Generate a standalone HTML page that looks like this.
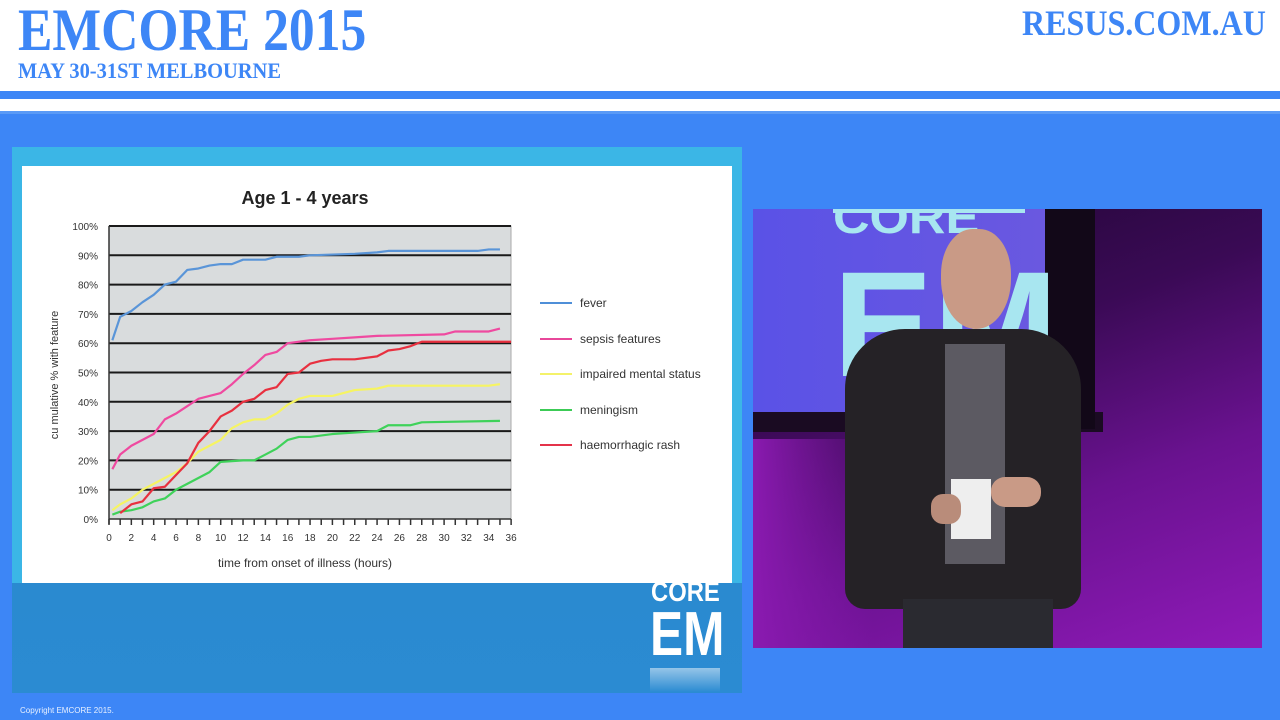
<!DOCTYPE html>
<html><head><meta charset="utf-8"><style>
html,body{margin:0;padding:0;width:1280px;height:720px;overflow:hidden;background:#3d86f6;font-family:"Liberation Sans",sans-serif}
.abs{position:absolute}
</style></head><body>
<div class="abs" style="left:0;top:0;width:1280px;height:113px;background:#fff"></div>
<div class="abs" style="left:0;top:91px;width:1280px;height:8px;background:#3d86f6"></div>
<div class="abs" style="left:0;top:111px;width:1280px;height:3px;background:#5a9af6"></div>
<div class="abs" style="left:18px;top:-4px;font:bold 60px 'Liberation Serif',serif;color:#3d86f6;transform:scaleX(0.86);transform-origin:left;white-space:nowrap">EMCORE 2015</div>
<div class="abs" style="left:18px;top:58px;font:bold 22px 'Liberation Serif',serif;color:#3d86f6;transform:scaleX(0.93);transform-origin:left;white-space:nowrap">MAY 30-31ST MELBOURNE</div>
<div class="abs" style="left:1022px;top:2px;font:bold 36px 'Liberation Serif',serif;color:#3d86f6;transform:scaleX(0.89);transform-origin:left;white-space:nowrap">RESUS.COM.AU</div>

<!-- slide -->
<div class="abs" style="left:12px;top:147px;width:730px;height:546px;background:#3bb6e6"></div>
<div class="abs" style="left:12px;top:583px;width:730px;height:110px;background:linear-gradient(#2a8ad0,#2b8bd2)"></div>
<div class="abs" style="left:22px;top:166px;width:710px;height:417px;background:#fff"></div>
<div class="abs" style="left:651px;top:578px;font:bold 28px 'Liberation Sans',sans-serif;color:#fff;transform:scaleX(0.85);transform-origin:left;line-height:28px">CORE</div>
<div class="abs" style="left:650px;top:600px;font:bold 62px 'Liberation Sans',sans-serif;color:#fff;transform:scaleX(0.8);transform-origin:left;line-height:70px">EM</div>
<div class="abs" style="left:650px;top:668px;width:70px;height:24px;background:linear-gradient(rgba(255,255,255,0.5),rgba(255,255,255,0))"></div>

<svg class="abs" style="left:0;top:0" width="760" height="600" id="ch">
<text x="305" y="204" text-anchor="middle" font-family="Liberation Sans" font-weight="bold" font-size="18" fill="#222">Age 1 - 4 years</text>
<rect x="109" y="226" width="402" height="293" fill="#d9dcdd" stroke="#aaa"/>
<g id="grid"></g>
<g id="lines" fill="none" stroke-width="2.2" stroke-linejoin="round"></g>
<text transform="translate(58,375) rotate(-90)" text-anchor="middle" font-family="Liberation Sans" font-size="11" fill="#333">cu mulative %  with feature</text>
<text x="305" y="567" text-anchor="middle" font-family="Liberation Sans" font-size="12" fill="#333">time from onset of illness (hours)</text>
<g font-family="Liberation Sans" font-size="12" fill="#333">
<line x1="540" x2="572" y1="303" y2="303" stroke="#4f8fd8" stroke-width="2"/><text x="580" y="307">fever</text>
<line x1="540" x2="572" y1="339" y2="339" stroke="#e8479a" stroke-width="2"/><text x="580" y="343">sepsis features</text>
<line x1="540" x2="572" y1="374" y2="374" stroke="#f4f26a" stroke-width="2"/><text x="580" y="378">impaired mental status</text>
<line x1="540" x2="572" y1="410" y2="410" stroke="#3ccb56" stroke-width="2"/><text x="580" y="414">meningism</text>
<line x1="540" x2="572" y1="445" y2="445" stroke="#e4334a" stroke-width="2"/><text x="580" y="449">haemorrhagic rash</text>
</g>
</svg>

<!-- video -->
<div class="abs" style="left:753px;top:209px;width:509px;height:439px;overflow:hidden;background:linear-gradient(160deg,#1e0630 0%,#3a0a55 35%,#6a1290 65%,#8f1ab8 100%)">
  <div class="abs" style="left:0;top:0;width:292px;height:203px;background:linear-gradient(90deg,#5a52e6,#6a58e0)"></div>
  <div class="abs" style="left:0;top:203px;width:350px;height:20px;background:#1a0b22"></div>
  <div class="abs" style="left:292px;top:0;width:50px;height:220px;background:#120818"></div>
  <div class="abs" style="left:80px;top:0;width:192px;height:4px;background:#a8e6f0"></div>
  <div class="abs" style="left:80px;top:-14px;font:bold 46px 'Liberation Sans',sans-serif;color:#a8e6f0;line-height:44px;transform:scaleX(1.1);transform-origin:left">CORE</div>
  <div class="abs" style="left:80px;top:40px;font:bold 150px 'Liberation Sans',sans-serif;color:#a8e6f0;line-height:150px">EM</div>
  <div class="abs" style="left:0;top:230px;width:120px;height:209px;background:linear-gradient(90deg,#8a1ab0,transparent)"></div>
  <!-- person -->
  <div class="abs" style="left:92px;top:120px;width:236px;height:280px;background:#252226;border-radius:60px 60px 20px 20px"></div>
  <div class="abs" style="left:192px;top:135px;width:60px;height:220px;background:#5c5a62"></div>
  <div class="abs" style="left:150px;top:390px;width:150px;height:49px;background:#2a2a30"></div>
  <div class="abs" style="left:188px;top:20px;width:70px;height:100px;background:#c99a86;border-radius:45% 45% 50% 50%"></div>
  <div class="abs" style="left:198px;top:270px;width:40px;height:60px;background:#eee"></div>
  <div class="abs" style="left:238px;top:268px;width:50px;height:30px;background:#c99a86;border-radius:14px"></div>
  <div class="abs" style="left:178px;top:285px;width:30px;height:30px;background:#b98c7a;border-radius:12px"></div>
</div>
<div class="abs" style="left:20px;top:706px;font-size:8px;color:#e8f0ff">Copyright EMCORE 2015.</div>

<script>
var X=h=>109+h*11.17, Y=p=>519-p*2.93, NS="http://www.w3.org/2000/svg";
var g=document.getElementById('grid');
function el(t,a,p){var e=document.createElementNS(NS,t);for(var k in a)e.setAttribute(k,a[k]);(p||g).appendChild(e);return e;}
for(var i=1;i<=10;i++){el('line',{x1:109,x2:511,y1:Y(i*10),y2:Y(i*10),stroke:'#1a1a1a','stroke-width':2});}
for(var i=0;i<=10;i++){var t=el('text',{x:98,y:Y(i*10)+4,'text-anchor':'end','font-family':'Liberation Sans','font-size':10,fill:'#333'});t.textContent=i*10+'%';}
el('line',{x1:109,x2:109,y1:226,y2:524,stroke:'#333','stroke-width':1.5});
el('line',{x1:109,x2:511,y1:519,y2:519,stroke:'#333','stroke-width':1.5});
for(var h=0;h<=36;h++){el('line',{x1:X(h),x2:X(h),y1:519,y2:525,stroke:'#333','stroke-width':1.5});
 if(h%2==0){var t=el('text',{x:X(h),y:541,'text-anchor':'middle','font-family':'Liberation Sans','font-size':10,fill:'#333'});t.textContent=h;}}
var D={
'#5a95d8':[[0.3,61],[1,69],[2,71],[3,74],[4,76.5],[5,80],[6,81],[7,85],[8,85.5],[9,86.5],[10,87],[11,87],[12,88.5],[14,88.5],[15,89.5],[17,89.5],[18,90],[22,90.5],[24,91],[25,91.5],[33,91.5],[34,92],[35,92]],
'#ef4aa0':[[0.3,17],[1,22],[2,25],[3,27],[4,29],[5,34],[6,36],[7,38.5],[8,41],[9,42],[10,43],[11,46],[12,49.5],[13,52.5],[14,56],[15,57],[16,60],[18,61],[20,61.5],[22,62],[24,62.5],[30,63],[31,64],[34,64],[35,65]],
'#f6f462':[[0.3,3],[1,5],[2,7],[3,10],[4,12],[5,14],[6,16],[7,19],[8,23],[9,25],[10,27],[11,31],[12,33],[13,34],[14,34],[15,36],[16,39],[17,41],[18,42],[20,42],[22,44],[24,44.5],[25,45.5],[34,45.5],[35,46]],
'#3fd25a':[[0.3,1.5],[1,2.5],[2,3],[3,4],[4,6],[5,7],[6,10],[7,12],[8,14],[9,16],[10,19.5],[12,20],[13,20],[14,22],[15,24],[16,27],[17,28],[18,28],[20,29],[22,29.5],[24,30],[25,32],[27,32],[28,33],[35,33.5]],
'#e8303f':[[1,2],[2,5],[3,6],[4,10.5],[5,11],[6,15],[7,19],[8,26],[9,30],[10,35],[11,37],[12,40],[13,41],[14,44],[15,45],[16,49.5],[17,50],[18,53],[19,54],[20,54.5],[22,54.5],[24,55.5],[25,57.5],[26,58],[27,59],[28,60.5],[36,60.5]]};
var L=document.getElementById('lines');
for(var c in D){el('polyline',{points:D[c].map(p=>X(p[0])+','+Y(p[1])).join(' '),stroke:c},L);}
</script>
</body></html>
